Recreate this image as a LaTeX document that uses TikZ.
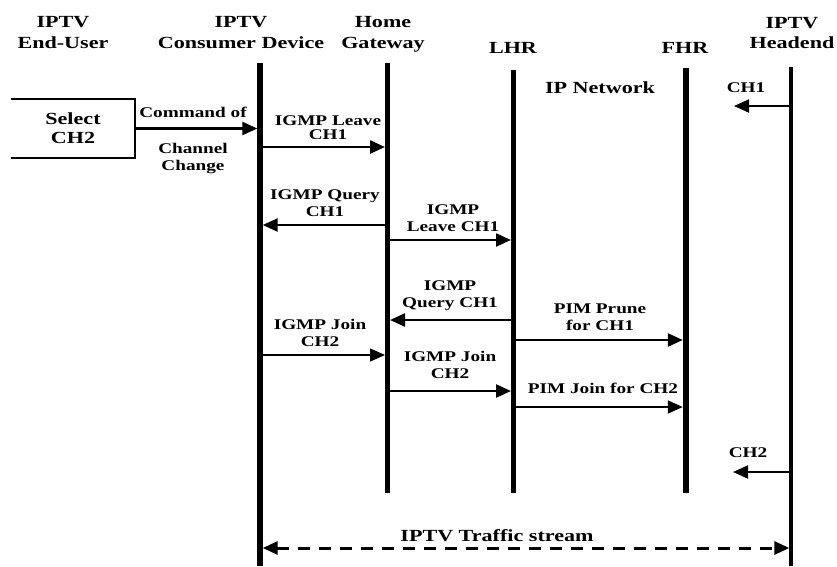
\documentclass[tikz,border=0pt]{standalone}
\usepackage{fontspec}
\setmainfont{Liberation Serif}[FakeStretch=1.3]
\usetikzlibrary{arrows.meta}
\begin{document}
\begin{tikzpicture}[x=1pt,y=-1pt,
  head/.style={font=\fontsize{17}{20.5}\selectfont\bfseries, align=center, inner sep=0pt},
  big/.style={font=\fontsize{17}{19}\selectfont\bfseries, align=center, inner sep=0pt},
  lbl/.style={font=\fontsize{14.8}{17}\selectfont\bfseries, align=center, inner sep=0pt},
  life/.style={line width=#1},
  tip/.style={-{Triangle[length=15pt,width=13pt]}},
  msg/.style={tip, line width=2.4pt},
  thinmsg/.style={tip, line width=1.2pt},
  boxline/.style={line width=2.5pt},
  stream/.style={{Triangle[length=15pt,width=13pt]}-{Triangle[length=15pt,width=13pt]},
                 line width=3pt, dash pattern=on 12pt off 9pt}
]
\useasboundingbox (0,0) rectangle (837,566);

% column headings
\node[head] (h-user) at (63,32.5)  {IPTV\\End-User};
\node[head] (h-cd)   at (241,32.5) {IPTV\\Consumer Device};
\node[head] (h-hg)   at (383,34.3) {Home\\Gateway};
\node[head] (h-lhr)  at (513,47.5) {LHR};
\node[head] (h-fhr)  at (685,47.5) {FHR};
\node[head] (h-he)   at (792,33)   {IPTV\\Headend};

% lifeline end points
\coordinate (cd-top)  at (260,63);   \coordinate (cd-bot)  at (260,566);
\coordinate (hg-top)  at (387.5,63); \coordinate (hg-bot)  at (387.5,493);
\coordinate (lhr-top) at (513.5,70); \coordinate (lhr-bot) at (513.5,493);
\coordinate (fhr-top) at (686,68);   \coordinate (fhr-bot) at (686,493);
\coordinate (he-top)  at (791,67);   \coordinate (he-bot)  at (791,566);

\draw[life=5.5pt] (cd-top) -- (cd-bot);
\draw[life=5pt]   (hg-top) -- (hg-bot);
\draw[life=5pt]   (lhr-top) -- (lhr-bot);
\draw[life=6.5pt] (fhr-top) -- (fhr-bot);
\draw[life=3.5pt] (he-top) -- (he-bot);

% end-user action box (open on the left)
\node[big, minimum width=124pt, minimum height=59pt] (sel) at (73,128.5) {Select\\CH2};
\draw[boxline] (sel.north west) -- (sel.north east) -- (sel.south east) -- (sel.south west);

% channel change command
\draw[msg, shorten >=2.7pt] (sel.east) -- (cd-top |- sel.east);
\node[lbl] (l-cmd1) at (193,112)   {Command of};
\node[lbl] (l-cmd2) at (193,158) {Channel\\Change};

% IGMP / PIM signalling
\draw[msg, shorten <=2.7pt, shorten >=2.5pt] (cd-top |- 0,147) -- (hg-top |- 0,147);
\node[lbl, font=\fontsize{14.8}{14}\selectfont\bfseries] (l-leave1) at (328,128) {IGMP Leave\\CH1};

\draw[msg, shorten <=2.5pt, shorten >=2.7pt] (hg-top |- 0,225) -- (cd-top |- 0,225);
\node[lbl] (l-query1) at (325,203) {IGMP Query\\CH1};

\draw[msg, shorten <=2.5pt, shorten >=2.5pt] (hg-top |- 0,240) -- (lhr-top |- 0,240);
\node[lbl] (l-leave2) at (453,218) {IGMP\\Leave CH1};

\draw[msg, shorten <=2.5pt, shorten >=2.5pt] (lhr-top |- 0,320) -- (hg-top |- 0,320);
\node[lbl] (l-query2) at (450,296) {IGMP\\Query CH1};

\draw[msg, shorten <=2.5pt, shorten >=3.2pt] (lhr-top |- 0,340) -- (fhr-top |- 0,340);
\node[lbl] (l-prune) at (600,317.5) {PIM Prune\\for CH1};

\draw[thinmsg, shorten <=2.7pt, shorten >=2.5pt] (cd-top |- 0,355) -- (hg-top |- 0,355);
\node[lbl] (l-join1) at (320,333) {IGMP Join\\CH2};

\draw[msg, shorten <=2.5pt, shorten >=2.5pt] (hg-top |- 0,391) -- (lhr-top |- 0,391);
\node[lbl] (l-join2) at (450,365) {IGMP Join\\CH2};

\draw[tip, line width=1.6pt, shorten <=2.5pt, shorten >=3.2pt] (lhr-top |- 0,407) -- (fhr-top |- 0,407);
\node[lbl] (l-pimjoin) at (603,388.5) {PIM Join for CH2};

% channel streams from the headend
\coordinate (ch1-end) at (734,106);
\coordinate (ch2-end) at (733,472);
\draw[tip, line width=2pt] (he-top |- ch1-end) -- (ch1-end);
\node[lbl] (l-ch1) at (746,88) {CH1};
\draw[tip, line width=2pt] (he-top |- ch2-end) -- (ch2-end);
\node[lbl] (l-ch2) at (748,453) {CH2};

\node[big] (l-net) at (600,88) {IP Network};

% traffic stream between device and headend
\draw[stream, shorten <=2.7pt, shorten >=1.7pt] (cd-top |- 0,548) -- (he-top |- 0,548);
\node[big] (l-stream) at (497,536) {IPTV Traffic stream};
\end{tikzpicture}
\end{document}
